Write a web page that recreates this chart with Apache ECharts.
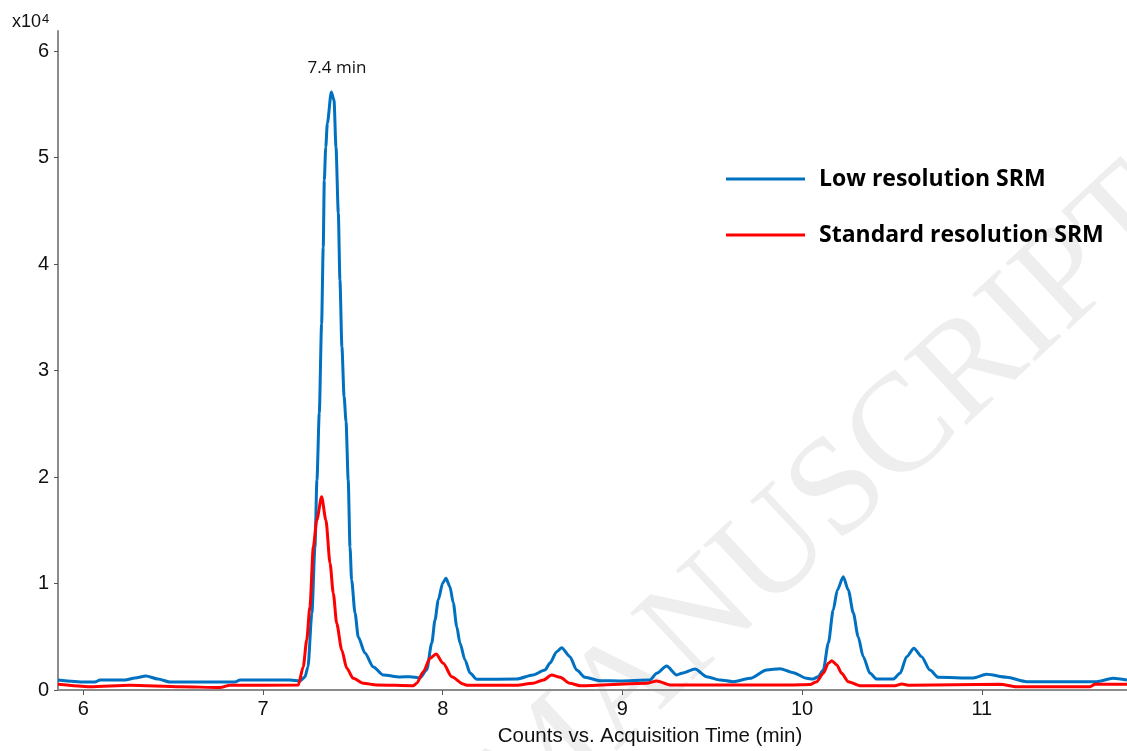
<!DOCTYPE html>
<html>
<head>
<meta charset="utf-8">
<script src="https://cdn.jsdelivr.net/npm/echarts@6/dist/echarts.min.js"></script>
<style>
html,body{margin:0;padding:0;background:#fff;}
#chart{width:1127px;height:751px;}
</style>
</head>
<body>
<div id="chart"></div>
<script>
// Values in units of 10^4 counts, time in minutes
const lowResTime = [5.859,6.009,6.065,6.093,6.232,6.287,6.349,6.415,6.482,6.844,6.872,7.150,7.206,7.233,7.250,7.272,7.289,7.300,7.313,7.326,7.335,7.341,7.349,7.358,7.380,7.395,7.406,7.419,7.428,7.439,7.451,7.462,7.474,7.484,7.493,7.512,7.530,7.567,7.614,7.669,7.762,7.818,7.873,7.911,7.939,7.957,7.975,8.000,8.018,8.040,8.059,8.078,8.096,8.124,8.152,8.189,8.412,8.502,8.569,8.597,8.634,8.662,8.708,8.745,8.792,8.875,8.986,9.153,9.191,9.246,9.302,9.337,9.404,9.469,9.543,9.617,9.710,9.803,9.877,9.951,10.025,10.060,10.090,10.118,10.146,10.173,10.196,10.229,10.257,10.285,10.312,10.340,10.378,10.415,10.507,10.545,10.582,10.622,10.665,10.711,10.758,10.953,11.027,11.138,11.250,11.639,11.730,11.808];
const lowResCounts = [0.094,0.075,0.075,0.094,0.094,0.113,0.131,0.103,0.075,0.075,0.094,0.094,0.085,0.122,0.216,0.723,1.343,1.972,2.601,3.440,4.160,4.789,5.099,5.324,5.618,5.540,5.099,4.479,3.850,3.221,2.760,2.520,1.972,1.343,1.033,0.723,0.498,0.347,0.216,0.141,0.122,0.125,0.113,0.188,0.441,0.657,0.845,1.005,1.049,0.970,0.817,0.594,0.441,0.282,0.160,0.100,0.103,0.141,0.188,0.254,0.360,0.397,0.313,0.188,0.119,0.087,0.085,0.094,0.157,0.225,0.141,0.160,0.197,0.125,0.094,0.078,0.110,0.188,0.200,0.162,0.110,0.103,0.125,0.188,0.441,0.751,0.939,1.064,0.939,0.723,0.500,0.313,0.157,0.103,0.103,0.157,0.313,0.392,0.313,0.188,0.119,0.113,0.147,0.119,0.078,0.078,0.110,0.094];

const stdResTime = [5.859,6.037,6.260,6.538,6.760,6.816,7.196,7.224,7.243,7.261,7.280,7.299,7.326,7.350,7.373,7.391,7.410,7.438,7.466,7.502,7.558,7.633,7.835,7.855,7.892,7.929,7.963,8.003,8.050,8.114,8.133,8.411,8.502,8.560,8.606,8.653,8.708,8.764,9.135,9.191,9.265,9.933,10.044,10.081,10.118,10.146,10.165,10.193,10.220,10.257,10.322,10.517,10.554,10.600,11.101,11.194,11.602,11.630,11.808];
const stdResCounts = [0.054,0.031,0.044,0.031,0.023,0.044,0.047,0.219,0.469,0.782,1.346,1.596,1.815,1.596,1.190,0.908,0.626,0.376,0.204,0.110,0.063,0.047,0.040,0.063,0.172,0.298,0.338,0.251,0.125,0.056,0.044,0.044,0.063,0.094,0.141,0.119,0.063,0.040,0.063,0.085,0.047,0.047,0.052,0.078,0.157,0.251,0.275,0.235,0.157,0.078,0.040,0.040,0.056,0.044,0.054,0.031,0.031,0.054,0.054];

const xTicks = [6, 7, 8, 9, 10, 11];
const yTicks = [0, 1, 2, 3, 4, 5, 6];
const seriesNames = ['Low resolution SRM', 'Standard resolution SRM'];
const xTitle = 'Counts vs. Acquisition Time (min)';
const peakLabel = '7.4 min';

const zip = (a, b) => a.map((v, i) => [v, b[i]]);

const chart = echarts.init(document.getElementById('chart'), null, {renderer: 'canvas'});
const axisFont = {fontFamily: '"Liberation Sans", Arial, sans-serif', fontSize: 20, color: '#111'};

chart.setOption({
  animation: false,
  backgroundColor: '#fff',
  grid: {left: 58, right: 0, top: 31, bottom: 61, containLabel: false},
  legend: {
    orient: 'vertical',
    left: 726,
    top: 166,
    padding: 0,
    itemWidth: 79,
    itemHeight: 3,
    itemGap: 30,
    textStyle: {fontFamily: '"Open Sans", sans-serif', fontWeight: 'bold', fontSize: 23, lineHeight: 26, color: '#000', padding: [0, 0, 0, 9]},
    data: [{name: seriesNames[0], icon: 'rect'}, {name: seriesNames[1], icon: 'rect'}]
  },
  xAxis: {
    type: 'value',
    min: 5.859,
    max: 11.808,
    axisLine: {show: true, lineStyle: {color: '#8c8c8c', width: 2}},
    axisTick: {show: true, length: 5, customValues: xTicks, lineStyle: {color: '#555', width: 1}},
    axisLabel: {customValues: xTicks, margin: 9, ...axisFont},
    splitLine: {show: false}
  },
  yAxis: {
    type: 'value',
    min: 0,
    max: 6.19,
    axisLine: {show: true, lineStyle: {color: '#8c8c8c', width: 2}},
    axisTick: {show: true, length: 4, customValues: yTicks, lineStyle: {color: '#555', width: 1}},
    axisLabel: {customValues: yTicks, margin: 9, ...axisFont},
    splitLine: {show: false}
  },
  graphic: [
    {type: 'text', z: -10, rotation: 0.75, x: 547, y: 861,
     style: {text: 'MANUSCRIPT', font: '140px "Liberation Serif", serif', fill: '#eeeeee', textAlign: 'left', textVerticalAlign: 'bottom'}},
    {type: 'text', x: 12, y: 31, style: {text: 'x10', font: '18px "Liberation Sans", Arial, sans-serif', fill: '#111', textVerticalAlign: 'bottom'}},
    {type: 'text', x: 42, y: 13, style: {text: '4', font: '13px "Liberation Sans", Arial, sans-serif', fill: '#111', textVerticalAlign: 'top'}},
    {type: 'text', x: 337, y: 68, style: {text: peakLabel, font: '17px "Open Sans", sans-serif', fill: '#111', textAlign: 'center', textVerticalAlign: 'middle'}},
    {type: 'text', x: 650, y: 736, style: {text: xTitle, font: '20.5px "Liberation Sans", Arial, sans-serif', fill: '#111', textAlign: 'center', textVerticalAlign: 'middle'}}
  ],
  series: [
    {
      name: seriesNames[0], type: 'line', data: zip(lowResTime, lowResCounts),
      showSymbol: false, symbol: 'none', smooth: 0.25, smoothMonotone: 'x',
      lineStyle: {color: '#0070C0', width: 3}, itemStyle: {color: '#0070C0'}, z: 3
    },
    {
      name: seriesNames[1], type: 'line', data: zip(stdResTime, stdResCounts),
      showSymbol: false, symbol: 'none', smooth: 0.25, smoothMonotone: 'x',
      lineStyle: {color: '#FF0000', width: 3}, itemStyle: {color: '#FF0000'}, z: 4
    }
  ]
});
</script>
</body>
</html>
